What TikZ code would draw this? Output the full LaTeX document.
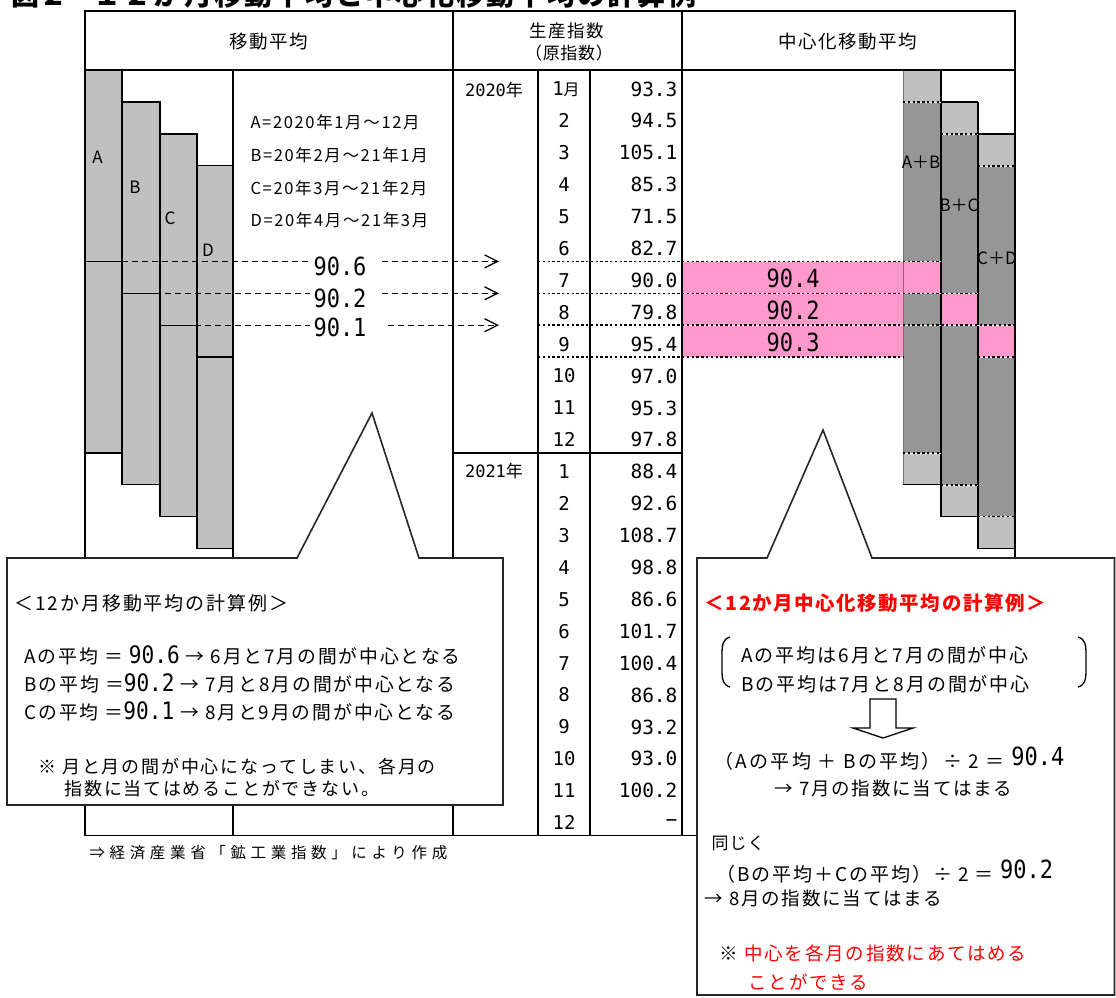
\documentclass[tikz,border=0pt]{standalone}
\usepackage{fontspec}
\setmainfont{Noto Sans CJK JP}
\newfontfamily\numf{DejaVu Sans Mono}
\newfontfamily\numn[FakeStretch=0.88]{DejaVu Sans Mono}
\usetikzlibrary{arrows.meta}
\definecolor{lgray}{HTML}{C0C0C0}
\definecolor{dgray}{HTML}{969696}
\definecolor{pinkc}{HTML}{FF99CC}
\definecolor{redc}{HTML}{FF0000}
\newcommand{\fsz}[1]{\fontsize{#1}{#1}\selectfont}
\newcommand{\lsp}[1]{\addfontfeature{LetterSpace=#1}}
\newcommand{\bignum}[2]{{\numn\fsz{#1}#2}}
\begin{document}
\begin{tikzpicture}[x=1pt,y=-1pt,
  frame/.style={line width=1.6pt},
  barbox/.style={fill=lgray,draw=black,line width=1.4pt},
  barline/.style={line width=1.4pt},
  dotln/.style={line width=1.6pt,preaction={draw=white,solid},draw=black,dash pattern=on 2.4pt off 2.4pt},
  hdr/.style={font=\fsz{18.5}\lsp{8}},
  legend/.style={anchor=west,font=\fsz{16.5}\lsp{10}},
  barlbl/.style={font=\fsz{17}},
  val/.style={anchor=east,font=\numf\fsz{19.5}},
  mon/.style={font=\numf\fsz{19}},
  big/.style={font=\numn\fsz{25}},
  dashln/.style={line width=1.3pt,dash pattern=on 6pt off 4pt},
  callout/.style={fill=white,draw=black!85,line width=1.6pt},
  ltxt/.style={anchor=west,font=\fsz{18}\lsp{10}},
  rtxt/.style={anchor=west,font=\fsz{18.5}\lsp{10}},
]
\useasboundingbox (0,0) rectangle (1116,997);

% ---------- title ----------
\node[anchor=base west,font=\bfseries\fsz{28}] (ttl1) at (8,5.5) {図２};
\node[anchor=base west,font=\bfseries\fsz{28}\lsp{8}] (ttl2) at (90,5.5) {１２か月移動平均と中心化移動平均の計算例};

% ---------- left bars ----------
\draw[barbox] (85,70) rectangle (122,452.8);
\draw[barbox] (122,101.9) rectangle (160,484.7);
\draw[barbox] (160,133.8) rectangle (197,516.6);
\draw[barbox] (197,165.7) rectangle (233,548.5);
\draw[barline] (85,261.4) -- (122,261.4);
\draw[barline] (122,293.3) -- (160,293.3);
\draw[barline] (160,325.2) -- (197,325.2);
\draw[barline] (197,357.1) -- (233,357.1);
\node[barlbl] (lA) at (97.5,157) {A};
\node[barlbl] (lB) at (135,187) {B};
\node[barlbl] (lC) at (170,218) {C};
\node[barlbl] (lD) at (208,250) {D};

% ---------- right section fills ----------
\fill[pinkc] (682,261.4) rectangle (903,357.1);
\fill[lgray] (903,70) rectangle (941,101.9);
\fill[dgray] (903,101.9) rectangle (941,452.8);
\fill[pinkc] (903,261.4) rectangle (941,293.3);
\fill[lgray] (903,452.8) rectangle (941,484.7);
\fill[lgray] (941,101.9) rectangle (978,133.8);
\fill[dgray] (941,133.8) rectangle (978,484.7);
\fill[pinkc] (941,293.3) rectangle (978,325.2);
\fill[lgray] (941,484.7) rectangle (978,516.6);
\fill[lgray] (978,133.8) rectangle (1015,165.7);
\fill[dgray] (978,165.7) rectangle (1015,516.6);
\fill[pinkc] (978,325.2) rectangle (1015,357.1);
\fill[lgray] (978,516.6) rectangle (1015,548.5);
\draw[line width=0.8pt,black!55] (903,70) -- (903,484.7);
\draw[barline] (941,70) -- (941,516.6);
\draw[barline] (978,101.9) -- (978,548.5);
\draw[barline] (941,101.9) -- (978,101.9);
\draw[barline] (978,133.8) -- (1015,133.8);
\draw[barline] (903,484.7) -- (941,484.7);
\draw[barline] (941,516.6) -- (978,516.6);
\draw[barline] (978,548.5) -- (1015,548.5);

% dotted boundaries
\draw[dotln] (903,101.9) -- (941,101.9);
\draw[dotln] (903,452.8) -- (941,452.8);
\draw[dotln] (941,133.8) -- (978,133.8);
\draw[dotln] (941,484.7) -- (978,484.7);
\draw[dotln] (978,165.7) -- (1015,165.7);
\draw[dotln] (978,516.6) -- (1015,516.6);
\draw[dotln] (538,261.4) -- (941,261.4);
\draw[dotln] (538,293.3) -- (978,293.3);
\draw[dotln] (538,325.2) -- (1015,325.2);
\draw[dotln] (538,357.1) -- (903,357.1);
\draw[dotln] (978,357.1) -- (1015,357.1);

% ---------- table frame ----------
\draw[frame] (85,11) rectangle (1015,835.6);
\draw[frame] (85,70) -- (1015,70);
\draw[frame] (453,11) -- (453,835.6);
\draw[frame] (682,11) -- (682,835.6);
\draw[frame] (538,70) -- (538,835.6);
\draw[frame] (590,70) -- (590,835.6);
\draw[frame] (233,70) -- (233,835.6);
\draw[frame] (453,452.8) -- (682,452.8);

% headers
\node[hdr] (h1) at (269,42) {移動平均};
\node[font=\fsz{17.5}\lsp{8}] (h2) at (567,31) {生産指数};
\node[font=\fsz{17}\lsp{4}] (h2b) at (569,53) {（原指数）};
\node[hdr] (h3) at (848,42) {中心化移動平均};

% years
\node[font=\fsz{17}] (y20) at (494,90) {{\numf 2020}年};
\node[font=\fsz{17}] (y21) at (494,471) {{\numf 2021}年};

% months
\node[font=\fsz{16}] (m1) at (566,89.5) {{\numf\fsz{19}1}月};
\foreach \m [count=\i from 2] in {2,3,4,5,6,7,8,9,10,11,12}
  \node[mon] (m\i) at (564,{73+(\i-0.5)*31.9}) {\m};
\foreach \m [count=\i from 13] in {1,2,3,4,5,6,7,8,9,10,11,12}
  \node[mon] (m\i) at (564,{73+(\i-0.5)*31.9}) {\m};

% values
\foreach \v [count=\i] in {93.3,94.5,105.1,85.3,71.5,82.7,90.0,79.8,95.4,97.0,95.3,97.8,88.4,92.6,108.7,98.8,86.6,101.7,100.4,86.8,93.2,93.0,100.2,−}
  \node[val] (v\i) at (681,{73+(\i-0.5)*31.9}) {\v};

% legend
\node[legend] (gA) at (247,122) {A=2020年1月～12月};
\node[legend] (gB) at (247,155) {B=20年2月～21年1月};
\node[legend] (gC) at (247,188) {C=20年3月～21年2月};
\node[legend] (gD) at (247,220) {D=20年4月～21年3月};

% moving averages with dashed arrows
\node[big] (n1) at (340,266) {90.6};
\node[big] (n2) at (340,298) {90.2};
\node[big] (n3) at (340,327) {90.1};
\coordinate (s1) at (122,261.4);
\coordinate (s2) at (155,293.3);
\coordinate (s3) at (185,325.2);
\coordinate (e1) at (499,261.4);
\coordinate (e2) at (499,293.3);
\coordinate (e3) at (499,325.2);
\draw[dashln] (s1) -- (s1 -| n1.west);
\draw[dashln] (s2) -- (s2 -| n2.west);
\draw[dashln] (s3) -- (s3 -| n3.west);
\draw[dashln,-{Straight Barb[length=13pt,width=13pt,line width=1.3pt]}] ([xshift=12pt]e1 -| n1.east) -- (e1);
\draw[dashln,-{Straight Barb[length=13pt,width=13pt,line width=1.3pt]}] ([xshift=12pt]e2 -| n2.east) -- (e2);
\draw[dashln,-{Straight Barb[length=13pt,width=13pt,line width=1.3pt]}] ([xshift=18pt]e3 -| n3.east) -- (e3);

% centred values
\node[big] (c1) at (793,278) {90.4};
\node[big] (c2) at (793,310) {90.2};
\node[big] (c3) at (793,342) {90.3};
\node[barlbl] (rAB) at (921,162) {A＋B};
\node[barlbl] (rBC) at (959,205) {B＋C};
\node[barlbl] (rCD) at (997,258) {C＋D};

% ---------- left callout ----------
\draw[callout] (7,558) -- (297,558) -- (372,413) -- (419,558) -- (503,558) -- (503,805) -- (7,805) -- cycle;
\node[ltxt,font=\fsz{19}\lsp{10}] (lt0) at (11,603) {＜12か月移動平均の計算例＞};
\node[ltxt,font=\fsz{18.8}\lsp{10}] (lt1) at (21,655) {Aの平均 ＝ \bignum{24}{90.6} → 6月と7月の間が中心となる};
\node[ltxt,font=\fsz{18.8}\lsp{10}] (lt2) at (21,683) {Bの平均 ＝\bignum{24}{90.2} → 7月と8月の間が中心となる};
\node[ltxt,font=\fsz{18.8}\lsp{10}] (lt3) at (21,711) {Cの平均 ＝\bignum{24}{90.1} → 8月と9月の間が中心となる};
\node[ltxt] (lt4) at (35,767) {※ 月と月の間が中心になってしまい、各月の};
\node[ltxt] (lt5) at (61,789) {指数に当てはめることができない。};

% ---------- right callout ----------
\draw[callout] (697,558) -- (767,558) -- (823,430) -- (872,558) -- (1114.5,558) -- (1114.5,995) -- (697,995) -- cycle;
\node[rtxt,font=\bfseries\fsz{19.5}\lsp{8},text=redc] (rt0) at (701,603) {＜12か月中心化移動平均の計算例＞};
\draw[line width=1.3pt] (730,637) .. controls (723,639) and (722,645) .. (722,652) -- (722,672) .. controls (722,679) and (723,685) .. (730,687);
\draw[line width=1.3pt] (1078,637) .. controls (1085,639) and (1086,645) .. (1086,652) -- (1086,672) .. controls (1086,679) and (1085,685) .. (1078,687);
\node[rtxt,font=\fsz{19}\lsp{10}] (rt1) at (738,655) {Aの平均は6月と7月の間が中心};
\node[rtxt,font=\fsz{19}\lsp{10}] (rt2) at (738,684) {Bの平均は7月と8月の間が中心};
\draw[line width=1.3pt,fill=white] (870,699) -- (896,699) -- (896,728) -- (913,728) -- (883,738) -- (853,728) -- (870,728) -- cycle;
\node[rtxt,font=\fsz{19}\lsp{12}] (rt3) at (711,759) {（Aの平均 ＋ Bの平均）÷ 2 ＝ \raisebox{3pt}{\bignum{25}{90.4}}};
\node[rtxt] (rt4) at (771,788) {→ 7月の指数に当てはまる};
\node[rtxt,font=\fsz{17}\lsp{6}] (rt5) at (708,843) {同じく};
\node[rtxt,font=\fsz{19}\lsp{10}] (rt6) at (713,872) {（Bの平均＋Cの平均）÷ 2 ＝ \raisebox{3pt}{\bignum{25}{90.2}}};
\node[rtxt] (rt7) at (701,898) {→ 8月の指数に当てはまる};
\node[rtxt] (rt8) at (716,953) {※ \textcolor{redc}{中心を各月の指数にあてはめる}};
\node[rtxt,text=redc] (rt9) at (745,982) {ことができる};

% ---------- source ----------
\node[anchor=west,font=\fsz{15.5}\lsp{30}] (src) at (86,853) {⇒経済産業省「鉱工業指数」により作成};
\end{tikzpicture}
\end{document}
